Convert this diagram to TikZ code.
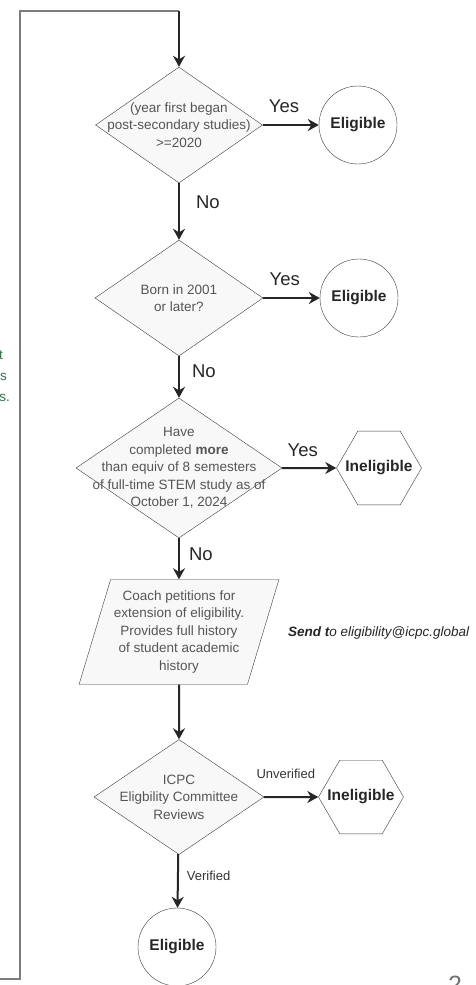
\documentclass[tikz,border=0pt]{standalone}
\usepackage{fontspec}
\setmainfont{Liberation Sans}
\usepackage{tikz}
\usetikzlibrary{shapes.geometric, arrows.meta, positioning}
\definecolor{shapeline}{RGB}{60,60,60}
\definecolor{shapefill}{RGB}{248,248,248}
\definecolor{shapetext}{RGB}{85,85,85}
\definecolor{notegreen}{RGB}{50,110,75}
\definecolor{backgray}{RGB}{125,125,125}

\begin{document}
\begin{tikzpicture}[
    x=1pt, y=-1pt,
    decision/.style={diamond, draw=shapeline, fill=shapefill, inner sep=-30pt, align=center, text=shapetext, font=\fontsize{13.5}{17.5}\selectfont},
    endpoint/.style={circle, draw=shapeline, fill=white, minimum size=78pt, inner sep=0pt, font=\fontsize{15.5}{18}\selectfont\bfseries, text=black!85},
    stopbox/.style={regular polygon, regular polygon sides=6, draw=shapeline, fill=white, minimum size=85pt, inner sep=-15pt, font=\fontsize{15.5}{18}\selectfont\bfseries, text=black!85},
    petition/.style={trapezium, trapezium left angle=70, trapezium right angle=110, trapezium stretches=true, draw=shapeline, fill=shapefill, minimum width=200pt, minimum height=105pt, inner sep=0pt, align=center, text=shapetext, font=\fontsize{13.5}{17.5}\selectfont},
    flow/.style={-{Stealth[length=11pt, width=12pt]}, line width=2pt, draw=black!85},
    backline/.style={line width=1.8pt, draw=backgray},
    bigans/.style={font=\fontsize{18.5}{20}\selectfont, text=black!85, inner sep=0pt},
    smallans/.style={font=\fontsize{13}{15}\selectfont, text=black!80, inner sep=0pt}
]
    \useasboundingbox (0,0) rectangle (475,985);

    % Decisions
    \node[decision, minimum width=167pt, minimum height=116pt] (q1) at (179,125) {(year first began\\post-secondary studies)\\>=2020};
    \node[decision, minimum width=168pt, minimum height=116pt] (q2) at (179,298) {Born in 2001\\or later?};
    \node[decision, minimum width=206pt, minimum height=140pt] (q3) at (179,468) {Have\\completed \textbf{more}\\than equiv of 8 semesters\\of full-time STEM study as of\\October 1, 2024};
    \node[petition] (pet) at (179,632) {Coach petitions for\\extension of eligibility.\\Provides full history\\of student academic\\history};
    \node[decision, minimum width=170pt, minimum height=115pt] (q4) at (179,797) {ICPC\\Eligbility Committee\\Reviews};

    % Outcomes
    \node[endpoint] (e1) at (358,125) {Eligible};
    \node[endpoint] (e2) at (359,298) {Eligible};
    \node[stopbox] (n1) at (379,468) {Ineligible};
    \node[stopbox] (n2) at (361,797) {Ineligible};
    \node[endpoint] (e3) at (177,947) {Eligible};

    % Flow
    \draw[flow] (q1) -- node[bigans, above=11pt, pos=0.38] {Yes} (e1);
    \draw[flow] (q1) -- node[bigans, right=16pt, pos=0.33] {No} (q2);
    \draw[flow] (q2) -- node[bigans, above=11pt, pos=0.38] {Yes} (e2);
    \draw[flow] (q2) -- node[bigans, right=12pt, pos=0.36] {No} (q3);
    \draw[flow] (q3) -- node[bigans, above=10pt, pos=0.38] {Yes} (n1);
    \draw[flow] (q3) -- node[bigans, right=9pt, pos=0.38] {No} (pet);
    \draw[flow] (pet) -- (q4);
    \draw[flow] (q4) -- node[smallans, above=17pt, pos=0.4] {Unverified} (n2);
    \draw[flow] (q4) -- node[smallans, right=8pt, pos=0.4] {Verified} (e3);

    % Loop back in from the left
    \coordinate (loopin) at (-5,979);
    \coordinate (loopcorner) at (20,979);
    \coordinate (looptop) at (20,11);
    \coordinate (loopend) at (179,11);
    \draw[backline] (loopin) -- (loopcorner) -- (looptop) -- (loopend);
    \draw[flow] (loopend) -- (q1);

    % Notes
    \node[anchor=west, inner sep=0pt, text=black!85, font=\fontsize{13.5}{16}\selectfont\itshape] (sendto) at (288,633) {\textbf{Send t}o eligibility@icpc.global};
    \node[anchor=mid east, inner sep=0pt, text=notegreen, font=\fontsize{13.5}{16}\selectfont] (cut1) at (3,357) {t};
    \node[anchor=mid east, inner sep=0pt, text=notegreen, font=\fontsize{13.5}{16}\selectfont] (cut2) at (7,378) {s};
    \node[anchor=mid east, inner sep=0pt, text=notegreen, font=\fontsize{13.5}{16}\selectfont] (cut3) at (10,399) {s.};
    \node[anchor=north, inner sep=0pt, text=black!55, font=\fontsize{25}{28}\selectfont] (pagenum) at (455,976) {2};
\end{tikzpicture}
\end{document}
